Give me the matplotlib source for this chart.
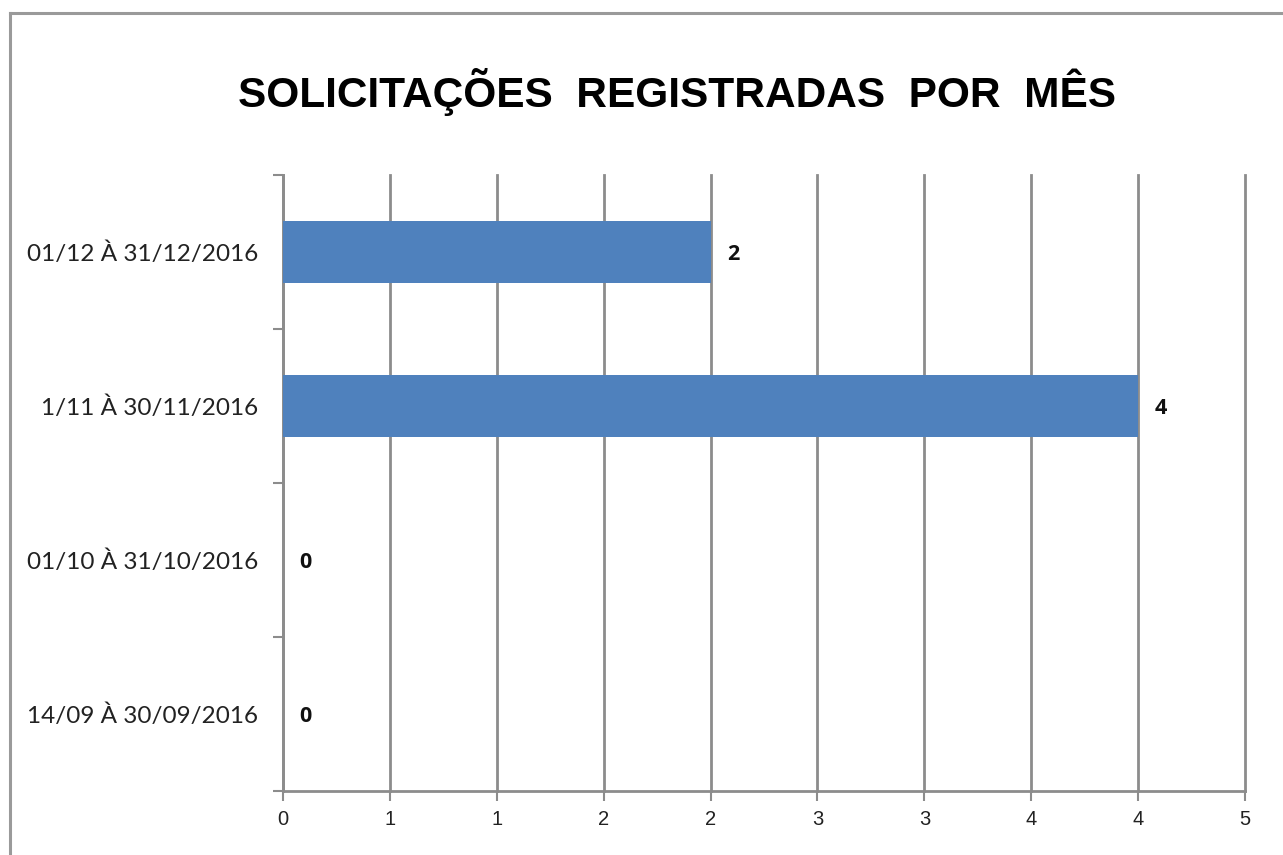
import matplotlib.pyplot as plt
from matplotlib.lines import Line2D

# data, bottom to top as drawn
periods = ["14/09 À 30/09/2016", "01/10 À 31/10/2016", "1/11 À 30/11/2016", "01/12 À 31/12/2016"]
requests = [0, 0, 4, 2]
x_ticks = [0, 0.5, 1, 1.5, 2, 2.5, 3, 3.5, 4, 4.5]
x_tick_labels = ["0", "1", "1", "2", "2", "3", "3", "4", "4", "5"]

bar_color = "#4F81BD"
grid_color = "#8C8C8C"

fig = plt.figure(figsize=(12.83, 8.55), dpi=100)
fig.patch.set_facecolor("white")

# outer frame (only top and left visible in the screenshot)
fig.add_artist(Line2D([10 / 1283, 10 / 1283], [0, 1 - 13 / 855], transform=fig.transFigure,
                      color="#9A9A9A", lw=2.2))
fig.add_artist(Line2D([10 / 1283, 1], [1 - 13 / 855, 1 - 13 / 855], transform=fig.transFigure,
                      color="#9A9A9A", lw=2.2))

ax = fig.add_axes([283 / 1283, 1 - 791 / 855, (1245 - 283) / 1283, (791 - 175) / 855])

ypos = list(range(len(periods)))
ax.barh(ypos, requests, height=0.4, color=bar_color, zorder=3)

for y, v in zip(ypos, requests):
    ax.annotate(str(v), (v, y), xytext=(12, -2), textcoords="offset points",
                ha="left", va="center", fontsize=15.5, fontweight="bold",
                family="Open Sans", color="#111111")

ax.set_xlim(0, 4.5)
ax.set_ylim(-0.5, len(periods) - 0.5)

ax.set_xticks(x_ticks)
ax.set_xticklabels(x_tick_labels, family="Liberation Sans", fontsize=14.5, color="#222222")
ax.set_yticks([p - 0.5 for p in range(len(periods) + 1)])
ax.set_yticklabels([])
ax.set_yticks(ypos, minor=True)
ax.set_yticklabels(periods, minor=True, family="Lato", fontsize=17.5, color="#222222")
ax.tick_params(axis="y", which="minor", length=0, pad=18)
ax.tick_params(axis="y", which="major", length=7, width=1.5, color=grid_color, direction="out")
ax.tick_params(axis="x", length=7, width=1.5, color=grid_color, direction="out", pad=7)

ax.grid(axis="x", color=grid_color, lw=2, zorder=0)
ax.set_axisbelow(True)
for gl in ax.get_xgridlines():
    gl.set_clip_on(False)

for s in ["top", "right"]:
    ax.spines[s].set_visible(False)
for s in ["left", "bottom"]:
    ax.spines[s].set_color(grid_color)
    ax.spines[s].set_linewidth(2)

fig.text(677 / 1283, 1 - 92 / 855, "SOLICITAÇÕES  REGISTRADAS  POR  MÊS", ha="center", va="center",
         fontsize=30.5, fontweight="bold", family="Liberation Sans", color="black")

fig.savefig("out.png", dpi=100)
